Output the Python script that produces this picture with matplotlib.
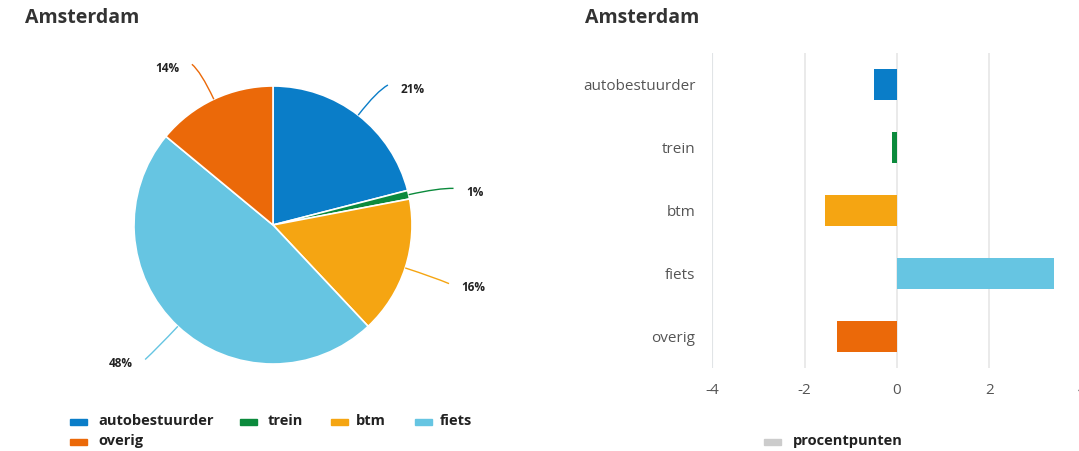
import numpy as np
import matplotlib
matplotlib.use("Agg")
import matplotlib.pyplot as plt
from matplotlib.path import Path
from matplotlib.patches import PathPatch, Rectangle

plt.rcParams['font.family'] = ['Open Sans', 'DejaVu Sans']

# Data
title = "Amsterdam"
modes = ["autobestuurder", "trein", "btm", "fiets", "overig"]
shares = [21, 1, 16, 48, 14]              # modal split, percent
change_pp = [-0.5, -0.1, -1.55, 3.4, -1.3]  # change, percentage points
colors = ["#0A7DC8", "#0B8A3C", "#F5A512", "#66C5E2", "#EB6909"]
xticks = [-4, -2, 0, 2, 4]
change_label = "procentpunten"

W, H = 1079, 451
fig = plt.figure(figsize=(W / 100, H / 100), dpi=100)

def fr(x0, y0, x1, y1):
    """pixel box (top-left origin) -> figure fraction rect"""
    return [x0 / W, 1 - y1 / H, (x1 - x0) / W, (y1 - y0) / H]

title_col = "#333333"
text_col = "#222222"

# ---------------- Pie ----------------
cx, cy, R = 273, 225, 139
axp = fig.add_axes(fr(0, 0, 540, 451))
wedges, _ = axp.pie(shares, colors=colors, startangle=90, counterclock=False,
                    wedgeprops=dict(edgecolor="white", linewidth=1.2))
axp.set_xlim((0 - cx) / R, (540 - cx) / R)
axp.set_ylim((cy - 451) / R, cy / R)
axp.set_aspect("auto")
axp.axis("off")

for w, c, s in zip(wedges, colors, shares):
    mid = np.deg2rad((w.theta1 + w.theta2) / 2)
    ux, uy = np.cos(mid), np.sin(mid)
    side = 1 if ux >= 0 else -1
    p0 = (ux * 1.0, uy * 1.0)
    p1 = (ux * 1.22, uy * 1.22)
    p2 = (ux * 1.30 + side * 0.03, uy * 1.30 - 0.02)
    path = Path([p0, p1, p2], [Path.MOVETO, Path.CURVE3, Path.CURVE3])
    axp.add_patch(PathPatch(path, facecolor="none", edgecolor=c, lw=1.0))
    axp.text(p2[0] + side * 0.09, p2[1] - 0.03, f"{s}%",
             ha="left" if side > 0 else "right", va="center",
             fontsize=8.5, fontweight="bold", color=text_col)

fig.text(25 / W, 1 - 18 / H, title, fontsize=14, fontweight="bold",
         color=title_col, ha="left", va="center")

# pie legend
leg_items = [(70, 421), (240, 421), (331, 421), (415, 421), (70, 441)]
leg_text_x = [98, 268, 356, 440, 98]
for (lx, ly), tx, name, c in zip(leg_items, leg_text_x, modes, colors):
    fig.patches.append(Rectangle((lx / W, 1 - (ly + 4) / H), 17 / W, 6 / H,
                                 transform=fig.transFigure, color=c))
    fig.text(tx / W, 1 - ly / H, name, fontsize=10.5, fontweight="bold",
             color=text_col, ha="left", va="center")

# ---------------- Bars ----------------
x0px, px_per = 897, 46.2
left_px = x0px - 4 * px_per
right_px = x0px + 4 * px_per
axb = fig.add_axes(fr(left_px, 53, right_px, 368))
ypos = np.arange(len(modes))
axb.barh(ypos, change_pp, height=0.48, color=colors, zorder=3)
axb.set_xlim(-4, 4)
axb.set_ylim(len(modes) - 0.5, -0.5)
axb.set_xticks(xticks)
axb.set_xticklabels([str(t) for t in xticks])
axb.set_yticks(ypos)
axb.set_yticklabels(modes)
axb.tick_params(axis="both", length=0, labelsize=11, labelcolor="#555555")
axb.tick_params(axis="y", pad=12)
axb.tick_params(axis="x", pad=11)
for sp in axb.spines.values():
    sp.set_visible(False)
axb.grid(axis="x", color="#E6E6E6", lw=1.2, zorder=0)
axb.axvline(-4, color="#C9DCEB", lw=1.5, zorder=1)

fig.text(585 / W, 1 - 18 / H, title, fontsize=14, fontweight="bold",
         color=title_col, ha="left", va="center")

fig.patches.append(Rectangle((764 / W, 1 - 445 / H), 17 / W, 6 / H,
                             transform=fig.transFigure, color="#CCCCCC"))
fig.text(793 / W, 1 - 441 / H, change_label, fontsize=10.5, fontweight="bold",
         color=text_col, ha="left", va="center")

fig.savefig("out.png", dpi=100, facecolor="white")
